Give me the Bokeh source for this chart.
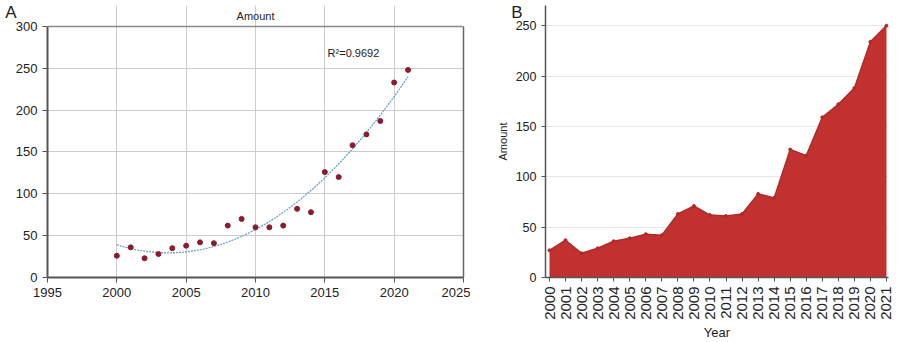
import numpy as np
from bokeh.plotting import figure
from bokeh.layouts import row
from bokeh.models import Label, Range1d, FixedTicker, Span, LinearAxis
from bokeh.embed import file_html
from bokeh.resources import INLINE

# ---- data ----
years = [2000, 2001, 2002, 2003, 2004, 2005, 2006, 2007, 2008, 2009, 2010,
         2011, 2012, 2013, 2014, 2015, 2016, 2017, 2018, 2019, 2020, 2021]
amount_a = [26, 36, 23, 28, 35, 38, 42, 41, 62, 70, 60,
            60, 62, 82, 78, 126, 120, 158, 171, 187, 233, 248]
amount_b = [27, 37, 24, 29, 36, 39, 43, 42, 63, 71, 62,
            61, 63, 83, 79, 127, 121, 159, 172, 188, 234, 250]
a_xticks = [1995, 2000, 2005, 2010, 2015, 2020, 2025]
a_yticks = [0, 50, 100, 150, 200, 250, 300]
b_yticks = [0, 50, 100, 150, 200, 250]
r2_text = "R\u00b2=0.9692"

FONT = "Liberation Sans"
AXIS_COL = "#555555"
TXT_COL = "#222222"

TOP, BOTTOM = 5, 65
LETTER_LH = 13.6   # line height that lifts a panel letter to the top


def label_axis(p, text, standoff, size, orientation, line_height=1.2):
    """An invisible left axis used only to carry a text outside the frame."""
    ax = LinearAxis(ticker=FixedTicker(ticks=[]),
                    axis_line_color=None, minor_tick_line_color=None,
                    major_tick_line_color=None,
                    axis_label=text, axis_label_orientation=orientation,
                    axis_label_text_font=FONT, axis_label_text_font_size=size,
                    axis_label_text_font_style="normal",
                    axis_label_text_color=TXT_COL,
                    axis_label_text_line_height=line_height,
                    axis_label_standoff=standoff)
    p.add_layout(ax, "left")


# ---- Panel A ----
pa = figure(width=470, height=342, output_backend="svg", toolbar_location=None,
            x_range=Range1d(a_xticks[0], a_xticks[-1]),
            y_range=Range1d(0, 325),
            min_border_left=47, min_border_right=7, min_border_top=TOP,
            min_border_bottom=BOTTOM)
pa.frame_width = 416
pa.frame_height = 342 - TOP - BOTTOM
pa.outline_line_color = None
for ax in (pa.xaxis[0], pa.yaxis[0]):
    ax.axis_line_color = AXIS_COL
    ax.axis_line_width = 2
    ax.major_tick_line_color = AXIS_COL
    ax.major_tick_in = 0
    ax.major_tick_out = 5
    ax.minor_tick_line_color = None
    ax.major_label_text_font = FONT
    ax.major_label_text_font_size = "13px"
    ax.major_label_text_color = TXT_COL
pa.xaxis.ticker = FixedTicker(ticks=a_xticks)
pa.yaxis.ticker = FixedTicker(ticks=a_yticks)
pa.yaxis.bounds = (a_yticks[0], a_yticks[-1])
pa.xgrid.grid_line_color = "#cccccc"
pa.ygrid.grid_line_color = "#cccccc"
pa.xgrid.ticker = FixedTicker(ticks=a_xticks)
pa.ygrid.ticker = FixedTicker(ticks=a_yticks)
pa.xgrid.bounds = (a_yticks[0], a_yticks[-1])

pa.add_layout(Span(location=a_yticks[-1], dimension="width",
                   line_color="#8a8a8a", line_width=1.5))
rax = LinearAxis(bounds=(a_yticks[0], a_yticks[-1]), ticker=FixedTicker(ticks=[]),
                 axis_line_color="#666666", axis_line_width=1.5,
                 minor_tick_line_color=None)
pa.add_layout(rax, "right")

coef = np.polyfit(years, amount_a, 2)
xs = np.linspace(years[0], years[-1], 200)
pa.line(xs, np.polyval(coef, xs), line_color="#6a9fd0", line_width=1.3,
        line_dash="2 1")
pa.scatter(years, amount_a, size=5, color="#8b1a2e")

pa.add_layout(Label(x=2015.2, y=268, text=r2_text, text_font=FONT,
                    text_font_size="11px", text_color=TXT_COL,
                    text_baseline="middle"))
pa.add_layout(Label(x=2010, y=313, text="Amount", text_font=FONT,
                    text_font_size="11px", text_color=TXT_COL,
                    text_align="center", text_baseline="middle"))
label_axis(pa, "A\n", -4, "17px", "horizontal", LETTER_LH)

# ---- Panel B ----
pb = figure(width=430, height=342, output_backend="svg", toolbar_location=None,
            x_range=Range1d(1999.75, 2021.125), y_range=Range1d(0, 270),
            min_border_left=75, min_border_right=12, min_border_top=TOP,
            min_border_bottom=BOTTOM)
pb.frame_width = 343
pb.frame_height = 342 - TOP - BOTTOM
pb.outline_line_color = None
for ax in (pb.xaxis[0], pb.yaxis[0]):
    ax.axis_line_color = AXIS_COL
    ax.axis_line_width = 1.5
    ax.major_tick_line_color = AXIS_COL
    ax.major_tick_in = 0
    ax.major_tick_out = 4
    ax.minor_tick_line_color = None
    ax.major_label_text_font = FONT
    ax.major_label_text_color = TXT_COL
    ax.axis_label_text_font = FONT
    ax.axis_label_text_font_style = "normal"
    ax.axis_label_text_color = TXT_COL
pb.xaxis.major_label_text_font_size = "15px"
pb.yaxis.major_label_text_font_size = "12.5px"
pb.xaxis.ticker = FixedTicker(ticks=years)
pb.xaxis.major_label_orientation = np.pi / 2
pb.yaxis.ticker = FixedTicker(ticks=b_yticks)
pb.xaxis.axis_label = "Year"
pb.xaxis.axis_label_text_font_size = "13px"
pb.xaxis.axis_label_standoff = 2
pb.xgrid.grid_line_color = None
pb.ygrid.grid_line_color = "#e6e6e6"

pb.varea(x=years, y1=[0] * len(years), y2=amount_b, fill_color="#c0312f")
pb.line(years, amount_b, line_color="#b02a28", line_width=1.5)
pb.scatter(years, amount_b, size=3, color="#b02a28")

label_axis(pb, "B\n", -10, "17px", "horizontal", LETTER_LH)
label_axis(pb, "Amount", 0, "11px", "vertical")

layout = row(pa, pb)
open("out.html", "w").write(file_html(layout, INLINE))
